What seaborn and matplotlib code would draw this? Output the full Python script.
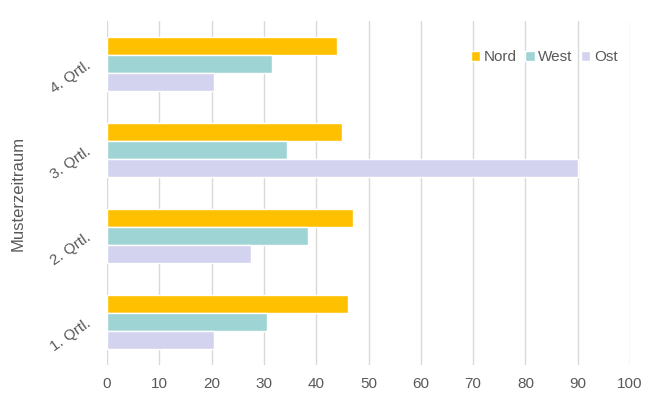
import matplotlib
matplotlib.use("Agg")
import matplotlib.pyplot as plt
import seaborn as sns
import pandas as pd

categories = ["1. Qrtl.", "2. Qrtl.", "3. Qrtl.", "4. Qrtl."]
series = ["Nord", "West", "Ost"]
nord = [46, 47, 45, 44]
west = [30.5, 38.5, 34.5, 31.5]
ost = [20.5, 27.5, 90, 20.5]
x_ticks = [0, 10, 20, 30, 40, 50, 60, 70, 80, 90, 100]

rows = []
for name, vals in zip(series, [nord, west, ost]):
    for c, v in zip(categories, vals):
        rows.append({"Quartal": c, "Serie": name, "Wert": v})
df = pd.DataFrame(rows)

sns.set_theme(style="white")
plt.rcParams['font.family'] = ['Liberation Sans', 'DejaVu Sans']

colors = {"Nord": "#FFC000", "West": "#9FD4D5", "Ost": "#D3D3F0"}
text_color = "#595959"

fig = plt.figure(figsize=(6.5, 4.03), dpi=100)
ax = fig.add_axes([107/650, 1 - 365/403, (630-107)/650, (365-21)/403])

sns.barplot(data=df, y="Quartal", x="Wert", hue="Serie",
            order=categories[::-1], hue_order=series, palette=colors,
            orient="h", width=0.63, ax=ax, legend=True, saturation=1)

ax.set_xlim(0, 100)
ax.set_xticks(x_ticks)
ax.set_xticklabels([str(t) for t in x_ticks], color=text_color, fontsize=11)
ax.grid(axis="x", color="#D9D9D9", linewidth=1)
ax.set_axisbelow(True)
for s in ax.spines.values():
    s.set_visible(False)
ax.tick_params(axis="x", length=0, pad=9)
ax.tick_params(axis="y", length=0, pad=13)
ax.set_xlabel("")
ax.set_ylabel("Musterzeitraum", color=text_color, fontsize=12, labelpad=16)
for lab in ax.get_yticklabels():
    lab.set_rotation(35)
    lab.set_color(text_color)
    lab.set_fontsize(11)
    lab.set_ha("right")
    lab.set_va("center")
    lab.set_rotation_mode("anchor")

handles, labels = ax.get_legend_handles_labels()
ax.legend(handles, labels, loc="upper right", bbox_to_anchor=(1.003, 0.955),
          ncol=3, frameon=False, fontsize=11, handlelength=0.6, handleheight=0.6,
          handletextpad=0.25, columnspacing=0.55, labelcolor=text_color)

fig.savefig("out.png", dpi=100)
